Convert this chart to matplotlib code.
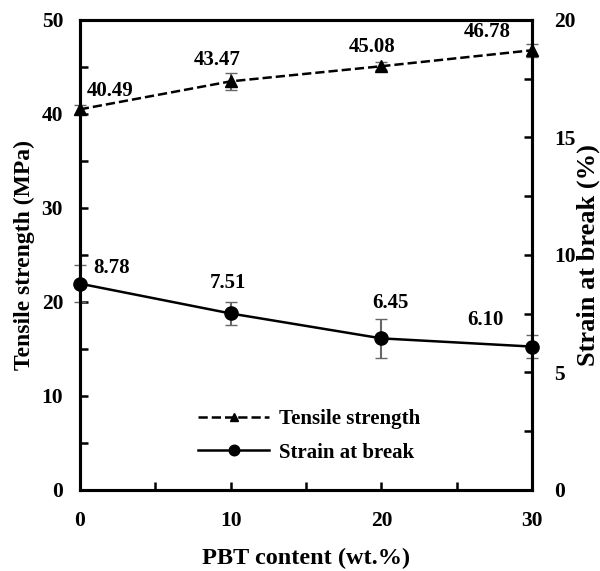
import matplotlib.pyplot as plt
from matplotlib.ticker import MultipleLocator

# Datos
pbt = [0, 10, 20, 30]
tensile = [40.49, 43.47, 45.08, 46.78]
tensile_err = [0.5, 0.9, 0.45, 0.7]
strain = [8.78, 7.51, 6.45, 6.10]
strain_err = [0.8, 0.47, 0.83, 0.5]

# Desplazamiento de las etiquetas (pixeles)
off_t = [(30, 18), (-13, 21), (-9, 19), (-45, 18)]
off_s = [(32, 16), (-3, 30), (9, 35), (-47, 27)]

plt.rcParams['font.family'] = 'Liberation Serif'
plt.rcParams['font.weight'] = 'bold'

fig = plt.figure(figsize=(6, 5.71), dpi=100)
ax = fig.add_axes([0.133, 0.142, 0.754, 0.823])
ax2 = ax.twinx()

l1 = ax.errorbar(pbt, tensile, yerr=tensile_err, color='black', linestyle='--',
                 linewidth=1.8, marker='^', markersize=8, ecolor='#666666',
                 elinewidth=1.5, capsize=4, clip_on=False)
l2 = ax2.errorbar(pbt, strain, yerr=strain_err, color='black', linestyle='-',
                  linewidth=1.8, marker='o', markersize=9.5, ecolor='#666666',
                  elinewidth=1.5, capsize=4, clip_on=False)

for x, y, o in zip(pbt, tensile, off_t):
    ax.annotate(f"{y:.2f}", (x, y), xytext=o, textcoords='offset pixels',
                ha='center', va='center', fontsize=15, fontweight='bold')
for x, y, o in zip(pbt, strain, off_s):
    ax2.annotate(f"{y:.2f}", (x, y), xytext=o, textcoords='offset pixels',
                 ha='center', va='center', fontsize=15, fontweight='bold')

ax.set_xlim(0, 30)
ax.set_ylim(0, 50)
ax2.set_ylim(0, 20)
ax.xaxis.set_major_locator(MultipleLocator(10))
ax.xaxis.set_minor_locator(MultipleLocator(5))
ax.yaxis.set_major_locator(MultipleLocator(10))
ax.yaxis.set_minor_locator(MultipleLocator(5))
ax2.yaxis.set_major_locator(MultipleLocator(5))
ax2.yaxis.set_minor_locator(MultipleLocator(2.5))

for a in (ax, ax2):
    for s in a.spines.values():
        s.set_linewidth(2.2)
    a.tick_params(which='both', direction='in', width=1.8, labelsize=15.5)
    a.tick_params(which='both', length=6)
ax.tick_params(axis='y', pad=12)
ax.tick_params(axis='x', pad=15)
ax2.tick_params(axis='y', pad=16)

ax.set_xlabel('PBT content (wt.%)', fontsize=17.5, fontweight='bold', va='center')
ax.xaxis.set_label_coords(0.5, -0.145)
ax.set_ylabel('Tensile strength (MPa)', fontsize=17, fontweight='bold', va='center')
ax.yaxis.set_label_coords(-0.122, 0.5)
ax2.set_ylabel('Strain at break (%)', fontsize=19, fontweight='bold', va='center')
ax2.yaxis.set_label_coords(1.124, 0.5)

ax.legend([l1[0], l2[0]], ['Tensile strength', 'Strain at break'], loc='center',
          bbox_to_anchor=(0.507, 0.115), frameon=False, fontsize=15,
          handlelength=3.4, handletextpad=0.45, labelspacing=0.65, markerscale=0.8)

fig.savefig('out.png', dpi=100)
